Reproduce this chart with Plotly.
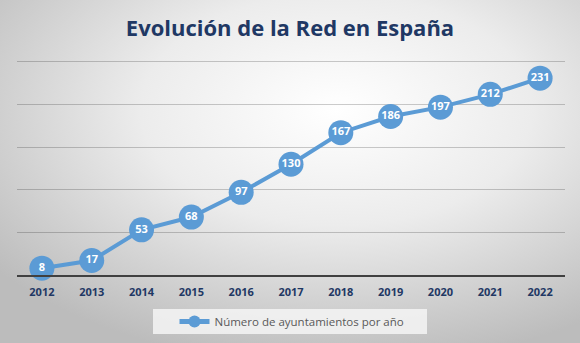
import base64
import plotly.graph_objects as go

years = ["2012", "2013", "2014", "2015", "2016", "2017", "2018", "2019", "2020", "2021", "2022"]
ayuntamientos = [8, 17, 53, 68, 97, 130, 167, 186, 197, 212, 231]
series_name = "Número de ayuntamientos por año"
title_text = "Evolución de la Red en España"

W, H = 580, 343
L, R, T, B = 17, 15, 59, 68
PW, PH = W - L - R, H - T - B

svg = f'''<svg xmlns="http://www.w3.org/2000/svg" width="{W}" height="{H}" viewBox="0 0 {W} {H}">
<defs><radialGradient id="g" cx="0.58" cy="0.32" r="0.75" gradientUnits="objectBoundingBox">
<stop offset="0" stop-color="#ffffff"/><stop offset="0.45" stop-color="#ececec"/><stop offset="1" stop-color="#bcbcbc"/>
</radialGradient></defs><rect width="{W}" height="{H}" fill="url(#g)"/></svg>'''
bg_uri = "data:image/svg+xml;base64," + base64.b64encode(svg.encode()).decode()

blue = "#5b9bd5"
navy = "#1f3864"

fig = go.Figure()
fig.add_trace(go.Scatter(
    x=years, y=ayuntamientos, name=series_name,
    mode="lines+markers+text",
    text=[str(v) for v in ayuntamientos],
    textposition="middle center",
    textfont=dict(family="Open Sans", size=11, color="white", weight="bold"),
    line=dict(color=blue, width=4),
    marker=dict(color=blue, size=25, line=dict(width=0)),
    cliponaxis=False,
))

def px_x(x):
    return (x - L) / PW

def px_y(y):
    return (H - B - y) / PH

fig.update_layout(
    width=W, height=H,
    margin=dict(l=L, r=R, t=T, b=B, autoexpand=False),
    paper_bgcolor="rgba(0,0,0,0)", plot_bgcolor="rgba(0,0,0,0)",
    images=[dict(source=bg_uri, xref="paper", yref="paper", x=px_x(0), y=px_y(0),
                 sizex=W / PW, sizey=H / PH, xanchor="left", yanchor="top",
                 sizing="stretch", layer="below")],
    shapes=[dict(type="rect", xref="paper", yref="paper", x0=px_x(153), x1=px_x(427),
                 y0=px_y(334), y1=px_y(309), fillcolor="rgba(245,245,245,0.85)",
                 line=dict(width=0), layer="below")],
    title=dict(text=title_text, x=0.5, xanchor="center", y=1 - 28 / H, yanchor="middle",
               font=dict(family="Open Sans", size=22, color=navy, weight="bold")),
    xaxis=dict(type="category", showgrid=False, showline=True, linecolor="#404040", linewidth=2,
               ticks="", tickfont=dict(family="Open Sans", size=11, color=navy, weight="bold"),
               range=[-0.5, 10.5], fixedrange=True, ticklabelstandoff=6),
    yaxis=dict(range=[0, 253.5], tickmode="array", tickvals=[0, 50, 100, 150, 200, 250],
               showgrid=True, gridcolor="rgba(0,0,0,0.2)", gridwidth=1,
               showticklabels=False, zeroline=False, showline=False, fixedrange=True),
    showlegend=True,
    legend=dict(orientation="h", x=px_x(292), xanchor="center", y=px_y(321.5), yanchor="middle",
                bgcolor="rgba(0,0,0,0)", borderwidth=0,
                font=dict(family="Open Sans", size=11.5, color="#595959"),
                itemsizing="constant"),
)

fig.write_html("out.html")
